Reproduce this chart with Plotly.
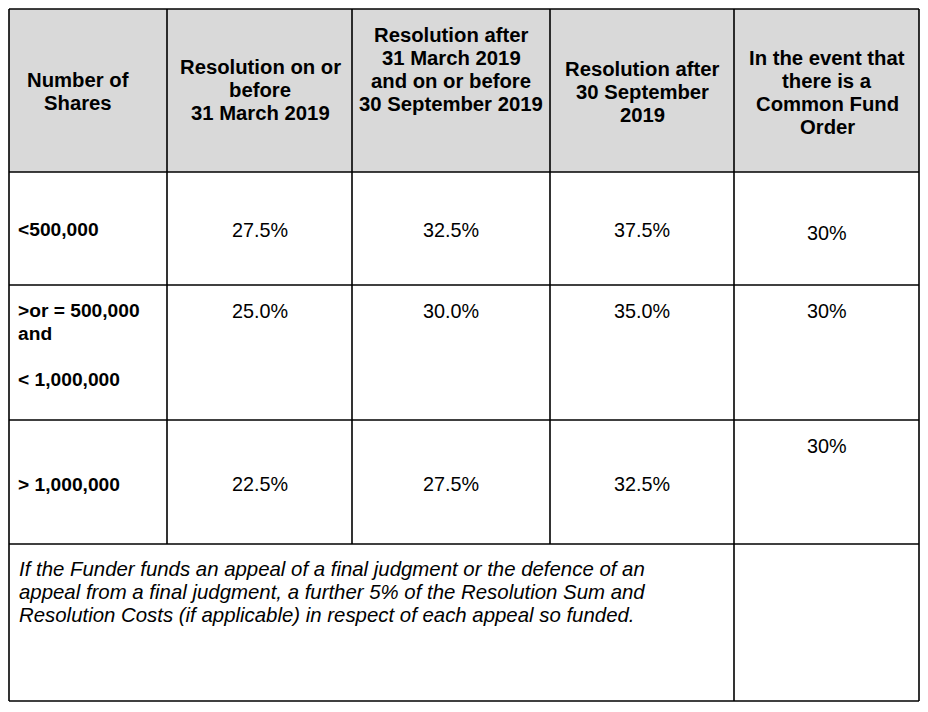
import plotly.graph_objects as go

# Table content
header_lines = [
    ["Number of", "Shares"],
    ["Resolution on or", "before", "31 March 2019"],
    ["Resolution after", "31 March 2019", "and on or before", "30 September 2019"],
    ["Resolution after", "30 September", "2019"],
    ["In the event that", "there is a", "Common Fund", "Order"],
]
share_bands = [
    ["<500,000"],
    [">or = 500,000", "and", "", "< 1,000,000"],
    ["> 1,000,000"],
]
rate_before_mar19 = ["27.5%", "25.0%", "22.5%"]
rate_mar_to_sep19 = ["32.5%", "30.0%", "27.5%"]
rate_after_sep19 = ["37.5%", "35.0%", "32.5%"]
rate_common_fund = ["30%", "30%", "30%"]
footnote_lines = [
    "If the Funder funds an appeal of a final judgment or the defence of an",
    "appeal from a final judgment, a further 5% of the Resolution Sum and",
    "Resolution Costs (if applicable) in respect of each appeal so funded.",
]

# Layout (pixel grid of the page; body has an 8px margin)
W, H = 928, 712
M = 8
col_x = [9, 167, 352, 550, 734, 919]
row_y = [9, 172, 285, 420, 544, 701]
header_x = [78, 260, 451, 642, 827]
header_top = [80, 67, 35, 69, 58]
label_top = [229, 310, 484]
value_y = [230, 311, 484]
common_y = [233, 311, 446]
step = 23
FONT = "Liberation Sans, Arial, sans-serif"

fig = go.Figure()
fig.add_trace(go.Scatter(x=[M, W - M], y=[M, H - M], mode="markers",
                         marker=dict(opacity=0), hoverinfo="skip", showlegend=False))

shapes = [dict(type="rect", x0=col_x[0], x1=col_x[-1], y0=row_y[0], y1=row_y[1],
               fillcolor="#d9d9d9", line=dict(width=0), layer="below")]
line = dict(color="black", width=1.6)
for y in row_y:
    shapes.append(dict(type="line", x0=col_x[0], x1=col_x[-1], y0=y, y1=y, line=line))
for i, x in enumerate(col_x):
    y1 = row_y[-1] if i in (0, 4, 5) else row_y[-2]
    shapes.append(dict(type="line", x0=x, x1=x, y0=row_y[0], y1=y1, line=line))

ann = []
for c, lines in enumerate(header_lines):
    for k, t in enumerate(lines):
        ann.append(dict(x=header_x[c], y=header_top[c] + k * step, text="<b>%s</b>" % t,
                        showarrow=False, xanchor="center", yanchor="middle",
                        font=dict(family=FONT, size=20.3, color="black")))

for r, lines in enumerate(share_bands):
    for k, t in enumerate(lines):
        if t:
            ann.append(dict(x=col_x[0] + 7, y=label_top[r] + k * step, text="<b>%s</b>" % t,
                            showarrow=False, xanchor="left", yanchor="middle",
                            font=dict(family=FONT, size=19.2, color="black")))

for c, vals in enumerate([rate_before_mar19, rate_mar_to_sep19, rate_after_sep19, rate_common_fund]):
    cx = header_x[c + 1]
    ys = common_y if c == 3 else value_y
    for r, v in enumerate(vals):
        ann.append(dict(x=cx, y=ys[r], text=v, showarrow=False,
                        xanchor="center", yanchor="middle",
                        font=dict(family=FONT, size=19.8, color="black")))

for k, t in enumerate(footnote_lines):
    ann.append(dict(x=col_x[0] + 8, y=569 + k * step, text="<i>%s</i>" % t,
                    showarrow=False, xanchor="left", yanchor="middle",
                    font=dict(family=FONT, size=20.4, color="black")))

fig.update_layout(
    width=W - 2 * M, height=H - 2 * M,
    margin=dict(l=0, r=0, t=0, b=0),
    paper_bgcolor="white", plot_bgcolor="white",
    xaxis=dict(range=[M, W - M], visible=False, fixedrange=True),
    yaxis=dict(range=[H - M, M], visible=False, fixedrange=True),
    shapes=shapes, annotations=ann,
)

fig.write_html("out.html")
